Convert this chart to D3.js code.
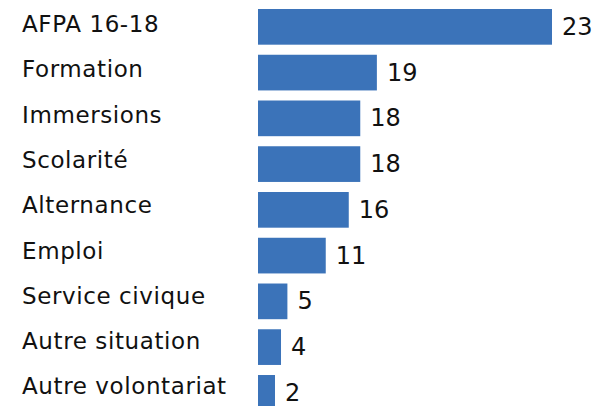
<!DOCTYPE html>
<html>
<head>
<meta charset="utf-8">
<script src="https://cdn.jsdelivr.net/npm/d3@7/dist/d3.min.js"></script>
<style>
html,body{margin:0;padding:0;background:#fff;}
svg{display:block;}
</style>
</head>
<body>
<div id="chart"></div>
<script>
const categories = ["AFPA 16-18","Formation","Immersions","Scolarité","Alternance","Emploi","Service civique","Autre situation","Autre volontariat"];
const valueLabels = [23,19,18,18,16,11,5,4,2];
// bar lengths as drawn in the picture (not proportional to the labels)
const barValues = [23,9.3,8.0,8.0,7.1,5.3,2.3,1.8,1.33];

const W = 594, H = 406;
const svg = d3.select("#chart").append("svg").attr("width", W).attr("height", H);

const x = d3.scaleLinear().domain([0, 23]).range([258, 552]);
const y = d3.scaleBand().domain(categories).range([9, 410.7]).paddingInner(0.22).paddingOuter(0);

const data = categories.map((c, i) => ({c, v: barValues[i], l: valueLabels[i]}));

svg.selectAll("rect.bar").data(data).enter().append("rect")
  .attr("class", "bar")
  .attr("x", x(0))
  .attr("y", d => y(d.c))
  .attr("width", d => x(d.v) - x(0))
  .attr("height", y.bandwidth())
  .attr("fill", "#3b73b9");

svg.selectAll("text.cat").data(data).enter().append("text")
  .attr("class", "cat")
  .attr("x", 22)
  .attr("y", (d, i) => y(d.c) + y.bandwidth() / 2 + 5.4 - i * 0.5)
  .attr("font-family", "DejaVu Sans")
  .attr("font-size", 23)
  .attr("letter-spacing", 0.6)
  .attr("fill", "#111")
  .text(d => d.c);

svg.selectAll("text.val").data(data).enter().append("text")
  .attr("class", "val")
  .attr("x", d => x(d.v) + 10)
  .attr("y", d => y(d.c) + y.bandwidth() / 2 + 8)
  .attr("font-family", "DejaVu Sans")
  .attr("font-size", 24)
  .attr("fill", "#111")
  .text(d => d.l);
</script>
</body>
</html>
